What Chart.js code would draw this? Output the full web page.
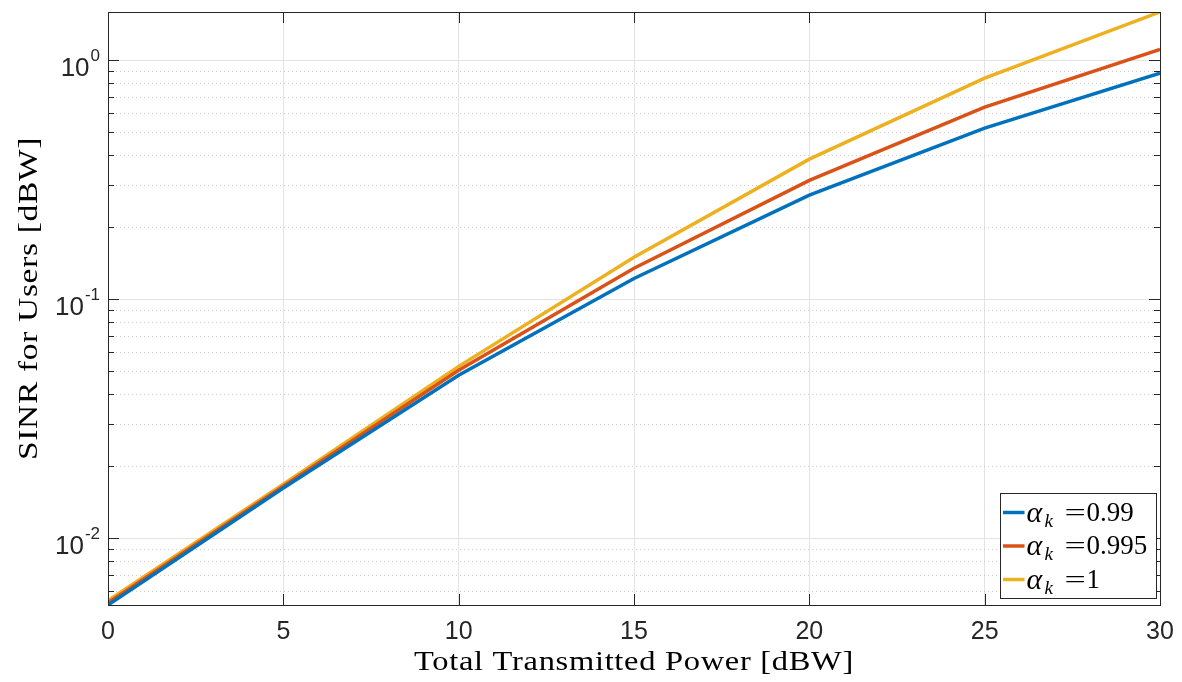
<!DOCTYPE html>
<html>
<head>
<meta charset="utf-8">
<title>SINR vs Total Transmitted Power</title>
<script src="https://cdn.jsdelivr.net/npm/chart.js@4.4.1/dist/chart.umd.min.js"></script>
<style>
  html, body { margin: 0; padding: 0; background: #fff; }
  #wrap { width: 1182px; height: 682px; }
</style>
</head>
<body>
<div id="wrap"><canvas id="sinr-chart"></canvas></div>
<script>
// Puissance totale émise (dBW)
const powerDbw = [0, 5, 10, 15, 20, 25, 30];
// SINR des utilisateurs pour chaque alpha_k
const sinrAlpha099 = [0.00525, 0.0162, 0.0480, 0.122, 0.272, 0.519, 0.882];
const sinrAlpha0995 = [0.00536, 0.0165, 0.0504, 0.1346, 0.314, 0.636, 1.109];
const sinrAlpha1 = [0.00548, 0.0168, 0.0523, 0.1496, 0.385, 0.841, 1.589];
const alphaValues = ['0.99', '0.995', '1'];
const lineColors = ['#0072BD', '#D95319', '#EDB120'];

// Graduations
const xTicks = [0, 5, 10, 15, 20, 25, 30];
const yMajorTicks = [0.01, 0.1, 1];
const yMinorTicks = [0.006, 0.007, 0.008, 0.009,
  0.02, 0.03, 0.04, 0.05, 0.06, 0.07, 0.08, 0.09,
  0.2, 0.3, 0.4, 0.5, 0.6, 0.7, 0.8, 0.9];
const yMin = 0.00525;
const yMax = 1.589;

const xTitle = 'Total Transmitted Power [dBW]';
const yTitle = 'SINR for Users [dBW]';

const axisColor = '#262626';
const sansFont = "'Liberation Sans', Arial, sans-serif";
const serifFont = "'Liberation Serif', 'Times New Roman', serif";

function toPoints(values) {
  return values.map((v, i) => ({ x: powerDbw[i], y: v }));
}

// Texte serif étiré à une largeur donnée (titres façon LaTeX)
function drawWideText(ctx, text, cx, cy, width, rotate) {
  ctx.save();
  ctx.font = '28px ' + serifFont;
  ctx.letterSpacing = '0.6px';
  ctx.fillStyle = '#000';
  ctx.textAlign = 'center';
  ctx.textBaseline = 'alphabetic';
  const w = ctx.measureText(text).width;
  ctx.translate(cx, cy);
  if (rotate) ctx.rotate(-Math.PI / 2);
  ctx.scale(width / w, 1);
  ctx.fillText(text, 0, 0);
  ctx.restore();
}

// Cadre, graduations intérieures, grille mineure, étiquettes 10^n et légende
const matlabAxes = {
  id: 'matlabAxes',
  beforeDatasetsDraw(chart) {
    const { ctx, chartArea: a, scales: { y } } = chart;
    ctx.save();
    ctx.strokeStyle = '#cfcfcf';
    ctx.lineWidth = 1;
    ctx.setLineDash([1, 3]);
    yMinorTicks.forEach(v => {
      const py = Math.round(y.getPixelForValue(v)) + 0.5;
      ctx.beginPath();
      ctx.moveTo(a.left, py);
      ctx.lineTo(a.right, py);
      ctx.stroke();
    });
    ctx.restore();
  },
  afterDatasetsDraw(chart) {
    const { ctx, chartArea: a, scales: { x, y } } = chart;
    ctx.save();
    ctx.strokeStyle = axisColor;
    ctx.lineWidth = 1;

    // graduations de l'axe y (gauche et droite)
    const yTick = (v, len) => {
      const py = Math.round(y.getPixelForValue(v)) + 0.5;
      ctx.beginPath();
      ctx.moveTo(a.left, py); ctx.lineTo(a.left + len, py);
      ctx.moveTo(a.right, py); ctx.lineTo(a.right - len, py);
      ctx.stroke();
    };
    yMajorTicks.forEach(v => yTick(v, 11));
    yMinorTicks.forEach(v => yTick(v, 6));

    // graduations de l'axe x (bas et haut)
    xTicks.forEach(v => {
      const px = Math.round(x.getPixelForValue(v)) + 0.5;
      ctx.beginPath();
      ctx.moveTo(px, a.bottom); ctx.lineTo(px, a.bottom - 11);
      ctx.moveTo(px, a.top); ctx.lineTo(px, a.top + 11);
      ctx.stroke();
    });

    // cadre
    ctx.strokeRect(Math.round(a.left) + 0.5, Math.round(a.top) + 0.5,
      Math.round(a.right - a.left), Math.round(a.bottom - a.top));

    // étiquettes 10^n
    ctx.fillStyle = axisColor;
    ctx.textAlign = 'right';
    ctx.textBaseline = 'alphabetic';
    yMajorTicks.forEach(v => {
      const py = y.getPixelForValue(v);
      const exp = String(Math.round(Math.log10(v)));
      ctx.font = '17px ' + sansFont;
      const expWidth = ctx.measureText(exp).width;
      ctx.fillText(exp, a.left - 8, py + 1);
      ctx.font = '26px ' + sansFont;
      ctx.fillText('10', a.left - 9 - expWidth, py + 16);
    });

    // titres des axes
    drawWideText(ctx, xTitle, (a.left + a.right) / 2, 670, 440, false);
    drawWideText(ctx, yTitle, 37, 298.5, 323, true);

    // légende
    const lx = 1000.5, ly = 493.5, lw = 156, lh = 105;
    ctx.fillStyle = '#fff';
    ctx.fillRect(lx, ly, lw, lh);
    ctx.strokeStyle = axisColor;
    ctx.strokeRect(lx, ly, lw, lh);
    chart.data.datasets.forEach((ds, i) => {
      const ry = 512.5 + i * 33.5;
      ctx.strokeStyle = ds.borderColor;
      ctx.lineWidth = 3.5;
      ctx.beginPath();
      ctx.moveTo(lx + 2.5, ry);
      ctx.lineTo(lx + 24, ry);
      ctx.stroke();
      ctx.fillStyle = '#000';
      ctx.textAlign = 'left';
      ctx.font = 'italic 30px ' + serifFont;
      ctx.fillText('\u03B1', lx + 26, ry + 9);
      ctx.font = 'italic 19px ' + serifFont;
      ctx.fillText('k', lx + 44, ry + 14);
      ctx.save();
      ctx.translate(lx + 64, ry + 8);
      ctx.scale(1.45, 1);
      ctx.font = '26px ' + serifFont;
      ctx.fillText('=', 0, 0);
      ctx.restore();
      ctx.font = '27px ' + serifFont;
      ctx.fillText(alphaValues[i], lx + 86, ry + 8);
    });
    ctx.restore();
  }
};

const config = {
  type: 'line',
  data: {
    datasets: [
      { label: '\u03B1k =' + alphaValues[0], data: toPoints(sinrAlpha099), borderColor: lineColors[0] },
      { label: '\u03B1k =' + alphaValues[1], data: toPoints(sinrAlpha0995), borderColor: lineColors[1] },
      { label: '\u03B1k =' + alphaValues[2], data: toPoints(sinrAlpha1), borderColor: lineColors[2] }
    ]
  },
  options: {
    responsive: true,
    maintainAspectRatio: false,
    animation: false,
    layout: { padding: { top: 12, right: 22, bottom: 0, left: 0 } },
    elements: {
      line: { borderWidth: 3.5, tension: 0, fill: false },
      point: { radius: 0, hoverRadius: 0 }
    },
    plugins: {
      legend: { display: false },
      tooltip: { enabled: false }
    },
    scales: {
      x: {
        type: 'linear',
        min: 0,
        max: 30,
        afterBuildTicks: scale => { scale.ticks = xTicks.map(v => ({ value: v })); },
        afterFit: scale => {
          scale.height = 77;
          scale.paddingLeft = 0;
          scale.paddingRight = 0;
        },
        ticks: {
          color: axisColor,
          padding: 12,
          maxRotation: 0,
          autoSkip: false,
          font: { family: sansFont, size: 25 }
        },
        grid: { color: '#e3e3e3', lineWidth: 1, drawTicks: false },
        border: { display: false }
      },
      y: {
        type: 'logarithmic',
        min: yMin,
        max: yMax,
        afterBuildTicks: scale => {
          scale.ticks = yMajorTicks.map(v => ({ value: v, major: true }));
        },
        afterFit: scale => { scale.width = 108; },
        ticks: { display: false },
        grid: { color: '#e3e3e3', lineWidth: 1, drawTicks: false },
        border: { display: false }
      }
    }
  },
  plugins: [matlabAxes]
};

const ctx = document.getElementById('sinr-chart').getContext('2d');
new Chart(ctx, config);
</script>
</body>
</html>
